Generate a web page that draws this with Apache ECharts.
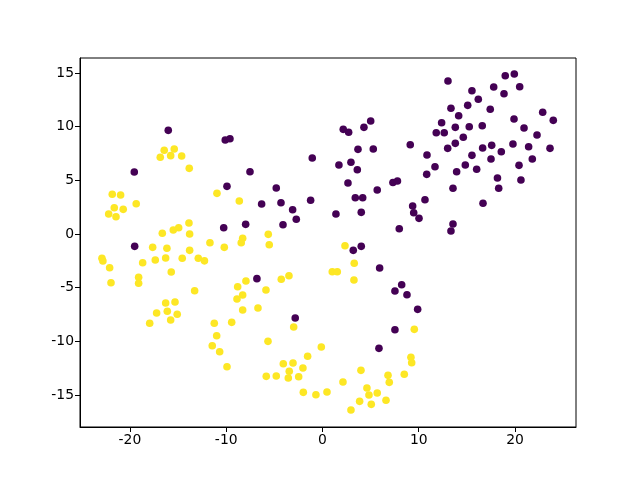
<!DOCTYPE html>
<html>
<head>
<meta charset="utf-8">
<script src="https://cdn.jsdelivr.net/npm/echarts@6/dist/echarts.min.js"></script>
<style>html,body{margin:0;padding:0;background:#fff}#c{width:640px;height:480px}</style>
</head>
<body>
<div id="c"></div>
<script>
const xTicks = [-20, -10, 0, 10, 20];
const yTicks = [-15, -10, -5, 0, 5, 10, 15];

const class0 = [
[13.04,14.26],[18.99,14.75],[19.93,14.91],[17.79,13.70],[20.49,13.72],[15.53,13.35],[18.86,13.07],[16.19,12.55],[15.09,11.99],[13.35,11.72],
[17.43,11.62],[22.88,11.34],[14.15,11.02],[23.98,10.59],[19.90,10.71],[13.80,9.94],[15.25,10.00],[16.60,10.09],[20.94,9.88],[14.63,9.01],
[22.29,9.22],[13.80,8.45],[16.64,8.01],[17.58,8.26],[19.79,8.39],[21.42,8.13],[18.58,7.67],[23.64,7.98],[15.53,7.33],[17.51,6.99],
[21.80,6.99],[14.84,6.43],[20.42,6.40],[13.94,5.80],[16.02,6.03],[18.18,5.22],[20.62,5.03],[12.38,10.37],[11.82,9.44],[12.65,9.44],
[5.01,10.53],[4.31,9.94],[2.16,9.75],[2.72,9.48],[3.69,7.89],[5.28,7.92],[9.12,8.32],[13.01,7.98],[10.86,7.36],[1.71,6.43],
[2.96,6.68],[3.62,5.99],[11.69,6.27],[10.83,5.56],[2.65,4.75],[7.32,4.80],[7.79,4.94],[-10.10,8.76],[-9.61,8.88],[-1.06,7.08],
[-7.53,5.80],[-16.02,9.66],[-19.55,5.78],[-19.51,-1.15],[-9.92,4.44],[-4.80,4.29],[-1.23,3.14],[-6.32,2.80],[-4.31,2.92],[-3.10,2.26],
[-2.72,1.37],[-10.26,0.59],[-7.98,0.90],[-4.10,0.87],[-6.81,-4.16],[5.69,4.10],[3.41,3.38],[4.18,3.38],[10.65,3.20],[9.37,2.61],
[9.48,1.98],[10.03,1.46],[1.40,1.86],[4.03,2.02],[7.98,0.49],[13.56,4.26],[13.56,0.93],[13.35,0.28],[3.20,-1.52],[4.03,-1.15],
[5.94,-3.17],[8.23,-4.72],[7.53,-5.31],[8.78,-5.66],[18.31,4.26],[16.68,2.86],[-2.83,-7.83],[9.89,-7.02],[7.53,-8.92],[5.87,-10.65]
];

const class1 = [
[-16.44,7.80],[-15.40,7.92],[-16.85,7.15],[-15.77,7.30],[-14.63,7.27],[-13.84,6.12],[-21.84,3.70],[-20.97,3.63],[-19.35,2.82],[-21.63,2.45],
[-20.70,2.30],[-22.21,1.86],[-21.45,1.61],[-13.87,1.02],[-14.94,0.59],[-15.50,0.37],[-16.64,0.07],[-13.80,0.00],[-17.64,-1.24],[-16.16,-1.33],
[-22.91,-2.26],[-22.81,-2.52],[-18.68,-2.67],[-17.37,-2.42],[-16.29,-2.24],[-14.57,-2.26],[-13.80,-1.52],[-12.90,-2.26],[-12.26,-2.50],[-22.11,-3.14],
[-15.71,-3.54],[-19.10,-4.03],[-19.10,-4.59],[-21.97,-4.54],[-13.28,-5.28],[-16.29,-6.43],[-15.32,-6.34],[-10.96,3.79],[-8.64,3.07],[-5.63,-0.03],
[-5.53,-1.00],[-8.29,-0.40],[-8.44,-0.81],[-11.69,-0.81],[-10.20,-1.24],[-7.95,-4.38],[-8.81,-4.91],[-8.29,-5.68],[-8.88,-6.06],[-5.87,-5.22],
[-4.28,-4.22],[-3.48,-3.89],[2.34,-1.09],[3.30,-2.73],[1.02,-3.51],[1.54,-3.51],[3.27,-4.29],[-17.23,-7.36],[-16.12,-7.20],[-15.09,-7.48],
[-15.77,-8.01],[-17.95,-8.32],[-8.29,-7.08],[-6.70,-6.89],[-11.24,-8.32],[-9.43,-8.23],[-10.99,-9.48],[-11.45,-10.41],[-10.68,-10.97],[-9.92,-12.36],
[-5.66,-10.00],[-2.99,-8.66],[-0.12,-10.53],[-1.54,-11.39],[-4.07,-12.08],[-3.06,-12.02],[-2.03,-12.48],[-3.45,-12.79],[-5.84,-13.26],[-4.80,-13.23],
[-3.55,-13.42],[-2.47,-13.30],[-1.99,-14.75],[-0.68,-14.97],[0.47,-14.72],[9.54,-8.88],[9.19,-11.49],[9.27,-11.99],[4.00,-12.70],[6.81,-13.17],
[8.50,-13.07],[6.94,-13.82],[2.13,-13.79],[4.62,-14.35],[5.69,-14.81],[4.83,-15.00],[3.86,-15.59],[6.60,-15.49],[5.07,-15.87],[2.96,-16.40]
];

const chart = echarts.init(document.getElementById('c'), null, {renderer: 'canvas'});
const font = 'DejaVu Sans';
chart.setOption({
  animation: false,
  backgroundColor: '#ffffff',
  grid: {left: 80, right: 64, top: 58, bottom: 53, show: true, borderColor: '#000', borderWidth: 1, backgroundColor: 'transparent', containLabel: false},
  xAxis: {
    type: 'value', min: -25.19, max: 26.34,
    splitLine: {show: false},
    axisLine: {show: true, onZero: false, lineStyle: {color: '#000', width: 1}},
    axisTick: {show: true, length: 5, lineStyle: {color: '#000'}, customValues: xTicks},
    axisLabel: {color: '#000', fontFamily: font, fontSize: 13.9, margin: 6, customValues: xTicks}
  },
  yAxis: {
    type: 'value', min: -17.98, max: 16.40,
    splitLine: {show: false},
    axisLine: {show: true, onZero: false, lineStyle: {color: '#000', width: 1}},
    axisTick: {show: true, length: 5, lineStyle: {color: '#000'}, customValues: yTicks},
    axisLabel: {color: '#000', fontFamily: font, fontSize: 13.9, margin: 6, customValues: yTicks}
  },
  series: [
    {type: 'scatter', data: class0, symbolSize: 7.6, itemStyle: {color: '#440154', opacity: 1}},
    {type: 'scatter', data: class1, symbolSize: 7.6, itemStyle: {color: '#fde725', opacity: 1}}
  ]
});
</script>
</body>
</html>
